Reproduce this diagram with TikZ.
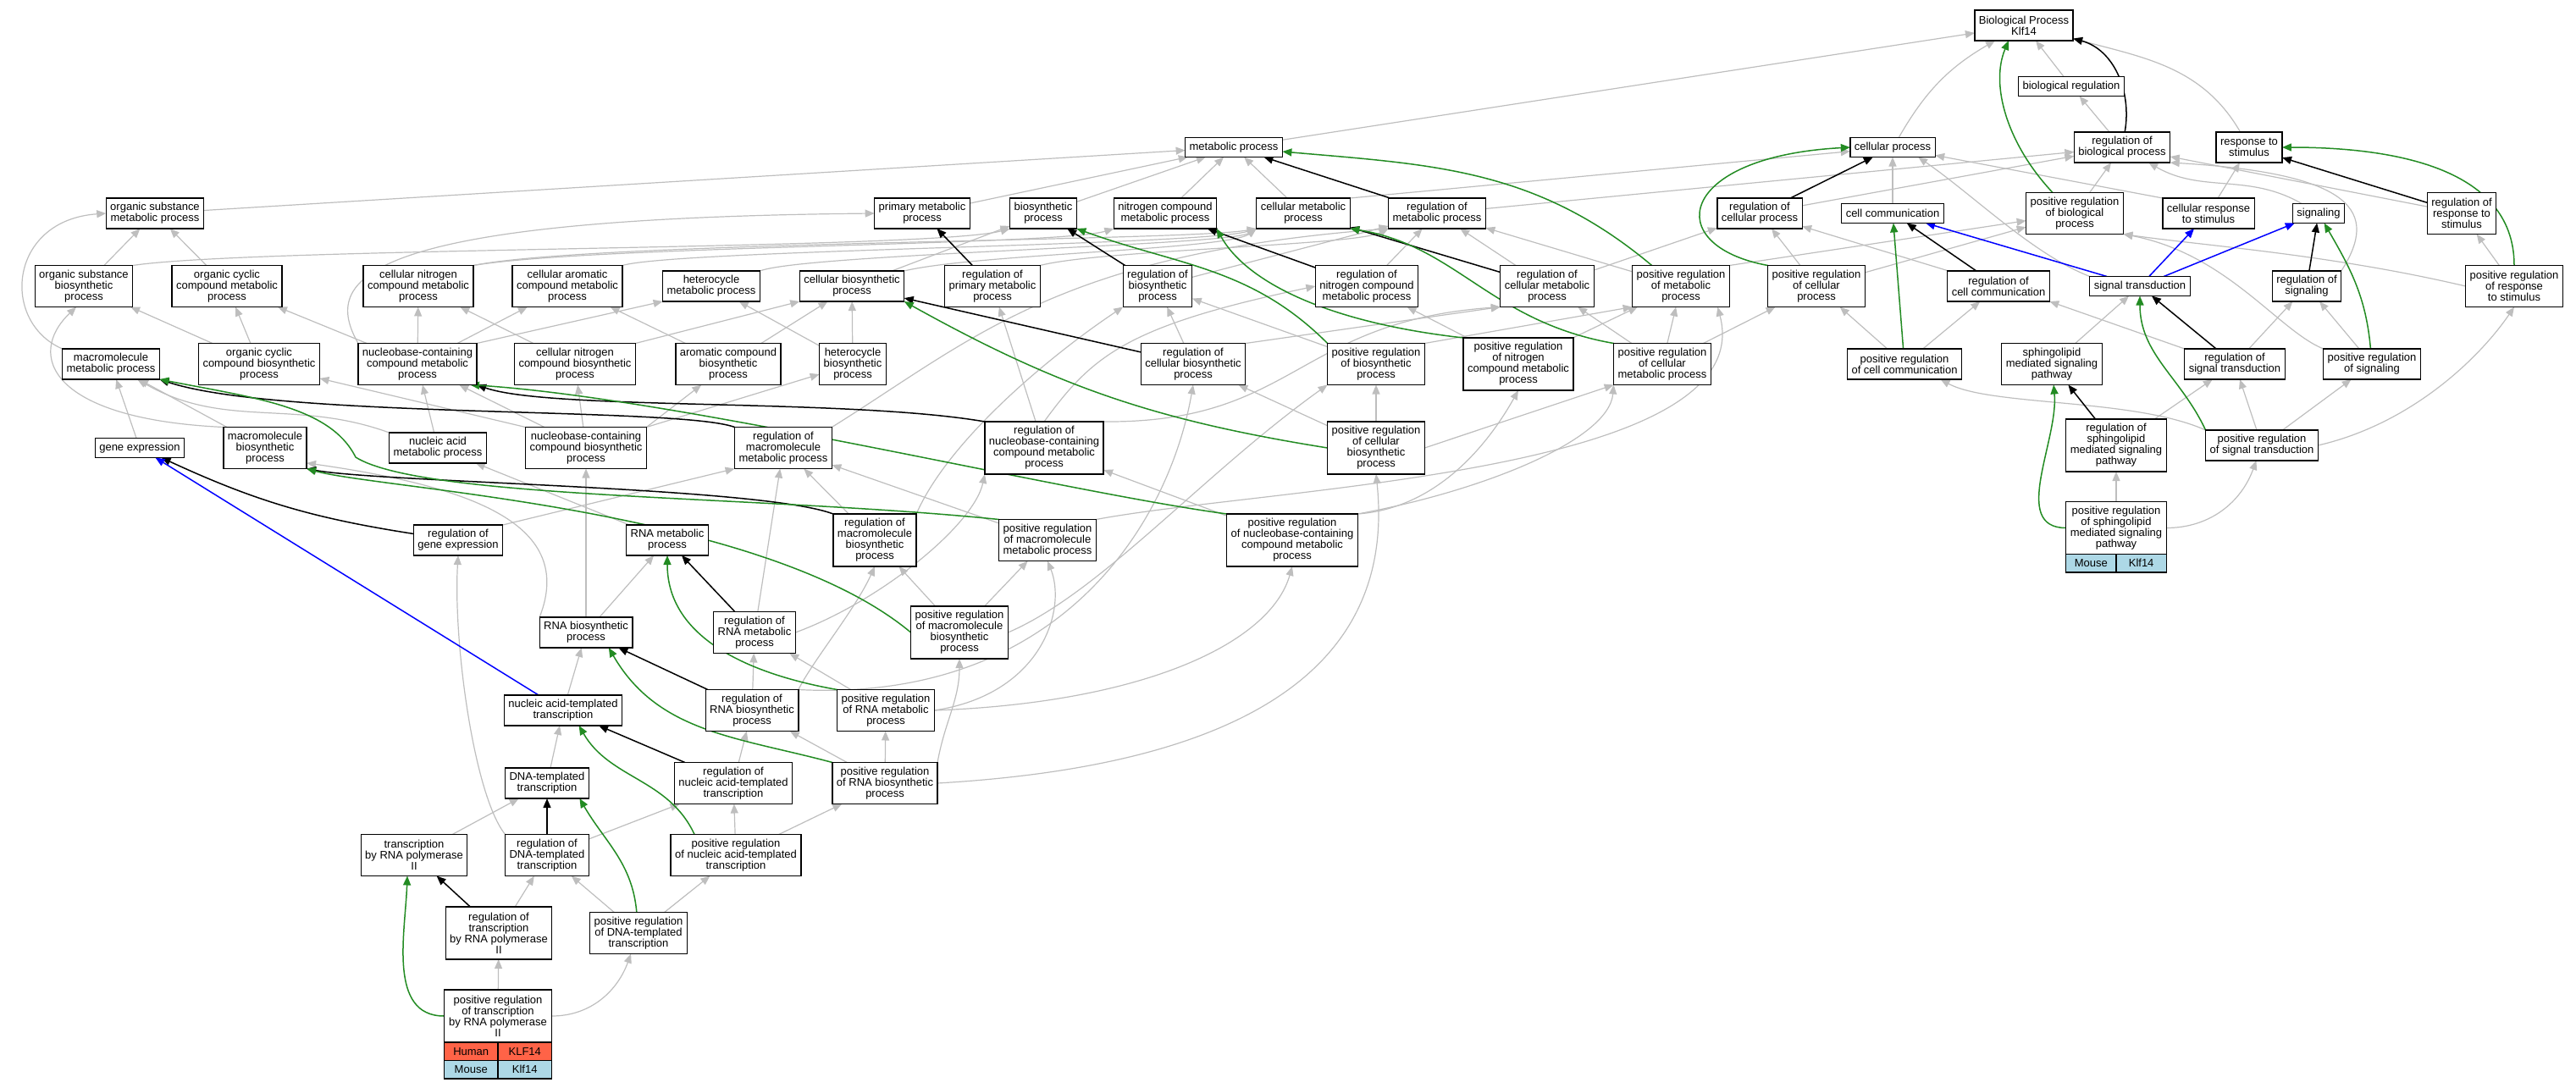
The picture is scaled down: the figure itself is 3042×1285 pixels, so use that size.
\documentclass[tikz,border=0pt]{standalone}
\usepackage{fontspec}
\setmainfont{Liberation Sans}
\usetikzlibrary{
  arrows.meta,
  backgrounds,
  positioning
}
\definecolor{isagray}{HTML}{BEBEBE}
\definecolor{posgreen}{HTML}{228B22}
\definecolor{partblue}{HTML}{0000FF}
\definecolor{humanred}{HTML}{FF6347}
\definecolor{mouseblue}{HTML}{ADD8E6}
\tikzset{
  % For GO terms.
  term/.style={
    draw=black,
    line width=1.3pt,
    fill=white,
    align=center,
    font=\fontsize{13}{13}\selectfont,
    inner xsep=5pt,
    inner ysep=2pt,
    outer sep=0pt},
%
  % Box height for a label of #1 lines.
  line count/.style={
    minimum height=10pt+13pt*#1},
%
  % For the species rows under an annotated term.
  species cell/.style={
    draw=black,
    line width=1.3pt,
    font=\fontsize{13}{13}\selectfont,
    minimum height=21.5pt,
    inner sep=0pt,
    outer sep=0pt},
%
  % For is_a links.
  is a/.style={
    draw=isagray,
    line width=1.2pt,
    -{Triangle[length=11pt,width=9pt]}},
%
  % For regulates links.
  regulates/.style={
    draw=black,
    line width=1.5pt,
    -{Triangle[length=11pt,width=9pt]}},
%
  % For positively regulates links.
  positively regulates/.style={
    draw=posgreen,
    line width=1.5pt,
    -{Triangle[length=11pt,width=9pt]}},
%
  % For part_of links.
  part of/.style={
    draw=partblue,
    line width=1.5pt,
    -{Triangle[length=11pt,width=9pt]}},
}

\begin{document}
\begin{tikzpicture}[x=1pt, y=1pt]
  \useasboundingbox (0,0) rectangle (3042,-1285);

  % top of the graph
  \node[term, line count=2] (root) at (2390,-30) {Biological Process\\Klf14};
  \node[term, line count=1] (br) at (2446,-102) {biological regulation};
  \node[term, line count=1] (mp) at (1457,-174) {metabolic process};
  \node[term, line count=1] (cp) at (2235,-174) {cellular process};
  \node[term, line count=2] (rbiop) at (2506,-174) {regulation of\\biological process};
  \node[term, line count=2] (rts) at (2656,-174) {response to\\stimulus};

  \node[term, line count=2] (osmp) at (183,-252) {organic substance\\metabolic process};
  \node[term, line count=2] (pmp) at (1089,-252) {primary metabolic\\process};
  \node[term, line count=2] (bp) at (1232,-252) {biosynthetic\\process};
  \node[term, line count=2] (nitcmp) at (1376,-252) {nitrogen compound\\metabolic process};
  \node[term, line count=2] (cmp) at (1539,-252) {cellular metabolic\\process};
  \node[term, line count=2] (regmp) at (1697,-252) {regulation of\\metabolic process};
  \node[term, line count=2] (rcp) at (2078,-252) {regulation of\\cellular process};
  \node[term, line count=1] (cc) at (2235,-252) {cell communication};
  \node[term, line count=3] (prbiop) at (2450,-252) {positive regulation\\of biological\\process};
  \node[term, line count=2] (crts) at (2608,-252) {cellular response\\to stimulus};
  \node[term, line count=1] (sig) at (2738,-252) {signaling};
  \node[term, line count=3] (rrts) at (2907,-252) {regulation of\\response to\\stimulus};

  \node[term, line count=3] (osbp) at (99,-338) {organic substance\\biosynthetic\\process};
  \node[term, line count=3] (occmp) at (268,-338) {organic cyclic\\compound metabolic\\process};
  \node[term, line count=3] (cncmp) at (494,-338) {cellular nitrogen\\compound metabolic\\process};
  \node[term, line count=3] (cacmp) at (670,-338) {cellular aromatic\\compound metabolic\\process};
  \node[term, line count=2] (hmp) at (840,-338) {heterocycle\\metabolic process};
  \node[term, line count=2] (cbp) at (1006,-338) {cellular biosynthetic\\process};
  \node[term, line count=3] (rpmp) at (1172,-338) {regulation of\\primary metabolic\\process};
  \node[term, line count=3] (regbp) at (1367,-338) {regulation of\\biosynthetic\\process};
  \node[term, line count=3] (rnitcmp) at (1614,-338) {regulation of\\nitrogen compound\\metabolic process};
  \node[term, line count=3] (rcmp) at (1827,-338) {regulation of\\cellular metabolic\\process};
  \node[term, line count=3] (prmp) at (1985,-338) {positive regulation\\of metabolic\\process};
  \node[term, line count=3] (prcp) at (2145,-338) {positive regulation\\of cellular\\process};
  \node[term, line count=2] (rcc) at (2360,-338) {regulation of\\cell communication};
  \node[term, line count=1] (st) at (2527,-338) {signal transduction};
  \node[term, line count=2] (rsig) at (2724,-338) {regulation of\\signaling};
  \node[term, line count=3] (prrts) at (2969,-338) {positive regulation\\of response\\to stimulus};

  \node[term, line count=2] (mmp) at (131,-430) {macromolecule\\metabolic process};
  \node[term, line count=3] (occbp) at (306,-430) {organic cyclic\\compound biosynthetic\\process};
  \node[term, line count=3] (ncmp) at (493,-430) {nucleobase-containing\\compound metabolic\\process};
  \node[term, line count=3] (cncbp) at (679,-430) {cellular nitrogen\\compound biosynthetic\\process};
  \node[term, line count=3] (acbp) at (860,-430) {aromatic compound\\biosynthetic\\process};
  \node[term, line count=3] (hbp) at (1007,-430) {heterocycle\\biosynthetic\\process};
  \node[term, line count=3] (rcbp) at (1409,-430) {regulation of\\cellular biosynthetic\\process};
  \node[term, line count=3] (prbp) at (1625,-430) {positive regulation\\of biosynthetic\\process};
  \node[term, line count=4] (prnitcmp) at (1793,-430) {positive regulation\\of nitrogen\\compound metabolic\\process};
  \node[term, line count=3] (prcmp) at (1963,-430) {positive regulation\\of cellular\\metabolic process};
  \node[term, line count=2] (prcc) at (2249,-430) {positive regulation\\of cell communication};
  \node[term, line count=3] (smsp) at (2423,-430) {sphingolipid\\mediated signaling\\pathway};
  \node[term, line count=2] (rst) at (2639,-430) {regulation of\\signal transduction};
  \node[term, line count=2] (prsig) at (2801,-430) {positive regulation\\of signaling};

  \node[term, line count=1] (ge) at (165,-529) {gene expression};
  \node[term, line count=3] (mbp) at (313,-529) {macromolecule\\biosynthetic\\process};
  \node[term, line count=2] (namp) at (517,-529) {nucleic acid\\metabolic process};
  \node[term, line count=3] (ncbp) at (692,-529) {nucleobase-containing\\compound biosynthetic\\process};
  \node[term, line count=3] (rmmp) at (925,-529) {regulation of\\macromolecule\\metabolic process};
  \node[term, line count=4] (rncmp) at (1233,-529) {regulation of\\nucleobase-containing\\compound metabolic\\process};
  \node[term, line count=4] (prcbp) at (1625,-529) {positive regulation\\of cellular\\biosynthetic\\process};
  \node[term, line count=4] (rsmsp) at (2499,-526) {regulation of\\sphingolipid\\mediated signaling\\pathway};
  \node[term, line count=2] (prst) at (2671,-526) {positive regulation\\of signal transduction};

  \node[term, line count=2] (rge) at (541,-638) {regulation of\\gene expression};
  \node[term, line count=2] (rnamp) at (788,-638) {RNA metabolic\\process};
  \node[term, line count=4] (rmbp) at (1033,-638) {regulation of\\macromolecule\\biosynthetic\\process};
  \node[term, line count=3] (prmmp) at (1237,-638) {positive regulation\\of macromolecule\\metabolic process};
  \node[term, line count=4] (prncmp) at (1526,-638) {positive regulation\\of nucleobase-containing\\compound metabolic\\process};
  \node[term, line count=4, minimum width=118.5pt] (prsmsp) at (2499,-623.5) {positive regulation\\of sphingolipid\\mediated signaling\\pathway};
  \node[species cell, fill=mouseblue, minimum width=59.25pt, anchor=north east] (prsmspms) at (prsmsp.south) {Mouse};
  \node[species cell, fill=mouseblue, minimum width=59.25pt, anchor=north west] (prsmspmg) at (prsmsp.south) {Klf14};

  \node[term, line count=2] (rbp) at (692,-747) {RNA biosynthetic\\process};
  \node[term, line count=3] (rrmp) at (891,-747) {regulation of\\RNA metabolic\\process};
  \node[term, line count=4] (prmbp) at (1133,-747) {positive regulation\\of macromolecule\\biosynthetic\\process};

  \node[term, line count=2] (natt) at (665,-839) {nucleic acid-templated\\transcription};
  \node[term, line count=3] (rrbp) at (888,-839) {regulation of\\RNA biosynthetic\\process};
  \node[term, line count=3] (prrmp) at (1046,-839) {positive regulation\\of RNA metabolic\\process};

  \node[term, line count=2] (dtt) at (646,-925) {DNA-templated\\transcription};
  \node[term, line count=3] (rnatt) at (866,-925) {regulation of\\nucleic acid-templated\\transcription};
  \node[term, line count=3] (prrbp) at (1045,-925) {positive regulation\\of RNA biosynthetic\\process};

  \node[term, line count=3] (trp2) at (489,-1010) {transcription\\by RNA polymerase\\II};
  \node[term, line count=3] (rdtt) at (646,-1010) {regulation of\\DNA-templated\\transcription};
  \node[term, line count=3] (prnatt) at (869,-1010) {positive regulation\\of nucleic acid-templated\\transcription};

  \node[term, line count=4] (rtrp2) at (589,-1102) {regulation of\\transcription\\by RNA polymerase\\II};
  \node[term, line count=3] (prdtt) at (754,-1102) {positive regulation\\of DNA-templated\\transcription};

  \node[term, line count=4, minimum width=127pt] (prtrp2) at (588,-1200) {positive regulation\\of transcription\\by RNA polymerase\\II};
  \node[species cell, fill=humanred, minimum width=63.5pt, anchor=north east] (prtrp2hs) at (prtrp2.south) {Human};
  \node[species cell, fill=humanred, minimum width=63.5pt, anchor=north west] (prtrp2hg) at (prtrp2.south) {KLF14};
  \node[species cell, fill=mouseblue, minimum width=63.5pt, below=0pt of prtrp2hs] (prtrp2ms) {Mouse};
  \node[species cell, fill=mouseblue, minimum width=63.5pt, below=0pt of prtrp2hg] (prtrp2mg) {Klf14};

  \begin{scope}[on background layer]
  % is_a
  \draw[is a] (br) -- (root);
  \draw[is a] (mp) -- (root);
  \draw[is a] (cp) to[bend left=15] (root);
  \draw[is a] (rts) to[out=120,in=-15] (root);
  \draw[is a] (rbiop) -- (br);
  \draw[is a] (osmp) -- (mp);
  \draw[is a] (pmp) -- (mp);
  \draw[is a] (bp) -- (mp);
  \draw[is a] (nitcmp) -- (mp);
  \draw[is a] (cmp) -- (mp);
  \draw[is a] (cmp.north east) -- (cp);
  \draw[is a] (regmp) -- (rbiop);
  \draw[is a] (rcp) -- (rbiop);
  \draw[is a] (cc) -- (cp);
  \draw[is a] (prbiop) -- (rbiop);
  \draw[is a] (crts) -- (rts);
  \draw[is a] (crts.north west) -- (cp);
  \draw[is a] (sig) to[out=150,in=-30] (rbiop);
  \draw[is a] (rrts) -- (rbiop);
  \draw[is a] (osbp) -- (osmp);
  \draw[is a] (osbp.north east) .. controls (300,-292) and (1100,-295) .. (bp.south west);
  \draw[is a] (occmp) -- (osmp);
  \draw[is a] (cncmp.north east) .. controls (700,-290) and (1250,-290) .. (nitcmp.south west);
  \draw[is a] (cncmp.north east) .. controls (700,-285) and (1400,-285) .. (cmp.south west);
  \draw[is a] (cacmp.north east) .. controls (800,-295) and (1420,-290) .. (cmp.south west);
  \draw[is a] (hmp.north east) .. controls (950,-300) and (1450,-290) .. (cmp.south west);
  \draw[is a] (cbp) -- (bp);
  \draw[is a] (cbp.north east) .. controls (1150,-300) and (1450,-295) .. (cmp.south west);
  \draw[is a] (rpmp.north east) .. controls (1300,-295) and (1600,-290) .. (regmp.south west);
  \draw[is a] (regbp) -- (regmp);
  \draw[is a] (rnitcmp) -- (regmp);
  \draw[is a] (rcmp) -- (regmp);
  \draw[is a] (rcmp) -- (rcp);
  \draw[is a] (prmp) -- (regmp);
  \draw[is a] (prmp.north east) -- (prbiop);
  \draw[is a] (prcp) -- (rcp);
  \draw[is a] (prcp) -- (prbiop);
  \draw[is a] (rcc) -- (rcp);
  \draw[is a] (st.north west) .. controls (2400,-300) and (2330,-230) .. ([xshift=-20pt]cp.south east);
  \draw[is a] (rsig.north east) .. controls (2810,-250) and (2780,-205) .. (rbiop.south east);
  \draw[is a] (prrts) -- (rrts);
  \draw[is a] (prrts.west) .. controls (2750,-300) and (2600,-290) .. (prbiop.south east);
  \draw[is a] (mmp.north west) .. controls (0,-380) and (10,-260) .. (osmp.west);
  \draw[is a] (occbp) -- (osbp);
  \draw[is a] (occbp) -- (occmp);
  \draw[is a] (ncmp) -- (occmp);
  \draw[is a] (ncmp) -- (cncmp);
  \draw[is a] (ncmp) -- (cacmp);
  \draw[is a] (ncmp.north east) -- (hmp.south west);
  \draw[is a] (ncmp.north west) .. controls (380,-330) and (420,-258) .. (pmp.west);
  \draw[is a] (cncbp) -- (cncmp);
  \draw[is a] (cncbp.north east) -- (cbp.south west);
  \draw[is a] (acbp) -- (cacmp);
  \draw[is a] (acbp) -- (cbp);
  \draw[is a] (hbp) -- (hmp);
  \draw[is a] (hbp) -- (cbp);
  \draw[is a] (rcbp) -- (regbp);
  \draw[is a] (rcbp.north east) -- (rcmp.south west);
  \draw[is a] (prbp) -- (regbp);
  \draw[is a] (prbp.north east) -- (prmp.south west);
  \draw[is a] (prnitcmp) -- (rnitcmp);
  \draw[is a] (prnitcmp) -- (prmp);
  \draw[is a] (prcmp) -- (prmp);
  \draw[is a] (prcmp) -- (rcmp);
  \draw[is a] (prcmp) -- (prcp);
  \draw[is a] (prcc) -- (rcc);
  \draw[is a] (prcc) -- (prcp);
  \draw[is a] (smsp) -- (st);
  \draw[is a] (rst) -- (rsig);
  \draw[is a] (rst.north west) -- (rcc.south east);
  \draw[is a] (prsig) -- (rsig);
  \draw[is a] (prsig.north west) .. controls (2690,-390) and (2630,-300) .. (prbiop.south east);
  \draw[is a] (ge) -- (mmp);
  \draw[is a] (mbp) -- (mmp);
  \draw[is a] (mbp.north west) .. controls (60,-495) and (30,-420) .. (osbp.250);
  \draw[is a] (namp) -- (ncmp);
  \draw[is a] (namp.north west) to[out=160,in=-30] (mmp);
  \draw[is a] (ncbp) -- (ncmp);
  \draw[is a] (ncbp) -- (cncbp);
  \draw[is a] (ncbp.north west) -- (occbp);
  \draw[is a] (ncbp.north east) -- (acbp);
  \draw[is a] (ncbp.north east) -- (hbp);
  \draw[is a] (rmmp.north east) .. controls (1150,-400) and (1250,-300) .. (regmp.south west);
  \draw[is a] (rncmp) -- (rpmp);
  \draw[is a] (rncmp.north) .. controls (1290,-420) and (1330,-385) .. (rnitcmp.west);
  \draw[is a] (rncmp.north east) .. controls (1530,-500) and (1530,-380) .. (rcmp.south west);
  \draw[is a] (prcbp) -- (prbp);
  \draw[is a] (prcbp) -- (rcbp);
  \draw[is a] (prcbp.east) -- (prcmp.south west);
  \draw[is a] (rsmsp) -- (rst);
  \draw[is a] (prst) -- (rst);
  \draw[is a] (prst) -- (prsig);
  \draw[is a] (prst.north west) .. controls (2520,-470) and (2350,-480) .. ([xshift=-25pt]prcc.south east);
  \draw[is a] (prst.east) .. controls (2850,-500) and (2930,-420) .. (prrts.south);
  \draw[is a] (rge.north east) -- (rmmp.south west);
  \draw[is a] (rnamp) -- (namp);
  \draw[is a] (rmbp) -- (rmmp);
  \draw[is a] (rmbp.north east) .. controls (1120,-520) and (1240,-420) .. (regbp.south west);
  \draw[is a] (prmmp) -- (rmmp);
  \draw[is a] (prmmp.north east) .. controls (1500,-575) and (2080,-560) .. ([xshift=-14pt]prmp.south east);
  \draw[is a] (prncmp) -- (rncmp);
  \draw[is a] (prncmp.north east) .. controls (1700,-600) and (1760,-520) .. (prnitcmp.south);
  \draw[is a] (prncmp.north east) .. controls (1750,-580) and (1900,-520) .. (prcmp.south west);
  \draw[is a] (prsmsp) -- (rsmsp);
  \draw[is a] (prsmsp.east) to[out=0,in=-110] (prst);
  \draw[is a] (rbp) -- (ncbp);
  \draw[is a] (rbp) -- (rnamp);
  \draw[is a] (rbp.north west) .. controls (680,-620) and (560,-575) .. (mbp.-20);
  \draw[is a] (rrmp.east) .. controls (1040,-710) and (1150,-620) .. (rncmp.south west);
  \draw[is a] (rrmp) -- (rmmp);
  \draw[is a] (prmbp) -- (rmbp);
  \draw[is a] (prmbp) -- (prmmp);
  \draw[is a] (prmbp.east) .. controls (1300,-700) and (1420,-560) .. (prbp.south west);
  \draw[is a] (natt) -- (rbp);
  \draw[is a] (rrbp) -- (rrmp);
  \draw[is a] (rrbp.north east) .. controls (960,-780) and (1010,-720) .. (rmbp.south);
  \draw[is a] (rrbp.north east) .. controls (1250,-830) and (1380,-620) .. (rcbp.south);
  \draw[is a] (prrmp) -- (rrmp);
  \draw[is a] (prrmp.east) .. controls (1230,-820) and (1260,-720) .. (prmmp.south);
  \draw[is a] (prrmp.east) .. controls (1350,-830) and (1500,-760) .. (prncmp.south);
  \draw[is a] (dtt) -- (natt);
  \draw[is a] (rnatt) -- (rrbp);
  \draw[is a] (prrbp) -- (rrbp);
  \draw[is a] (prrbp) -- (prrmp);
  \draw[is a] (prrbp.north east) to[out=80,in=-90] (prmbp);
  \draw[is a] (prrbp.east) .. controls (1450,-905) and (1650,-800) .. (prcbp.south);
  \draw[is a] (trp2) -- (dtt);
  \draw[is a] (rdtt) -- (rnatt);
  \draw[is a] (rdtt.north west) .. controls (560,-940) and (535,-760) .. (rge.south);
  \draw[is a] (prnatt) -- (rnatt);
  \draw[is a] (prnatt) -- (prrbp);
  \draw[is a] (rtrp2) -- (rdtt);
  \draw[is a] (prdtt) -- (rdtt);
  \draw[is a] (prdtt) -- (prnatt);
  \draw[is a] (prtrp2) -- (rtrp2);
  \draw[is a] (prtrp2.east) to[out=0,in=-110] (prdtt);

  % regulates
  \draw[regulates] (rbiop) to[out=80,in=-15] (root);
  \draw[regulates] (regmp) -- (mp);
  \draw[regulates] (rcp) -- (cp);
  \draw[regulates] (rpmp) -- (pmp);
  \draw[regulates] (regbp) -- (bp);
  \draw[regulates] (rnitcmp) -- (nitcmp);
  \draw[regulates] (rcmp) -- (cmp);
  \draw[regulates] (rcbp) -- (cbp);
  \draw[regulates] (rmmp.north west) .. controls (800,-480) and (330,-495) .. (mmp.south east);
  \draw[regulates] (rncmp.north west) .. controls (1000,-470) and (650,-485) .. (ncmp.south east);
  \draw[regulates] (rmbp.north west) .. controls (900,-575) and (450,-570) .. (mbp.south east);
  \draw[regulates] (rge) to[bend left=8] (ge);
  \draw[regulates] (rrmp) -- (rnamp);
  \draw[regulates] (rrbp) -- (rbp);
  \draw[regulates] (rnatt) -- (natt);
  \draw[regulates] (rdtt) -- (dtt);
  \draw[regulates] (rtrp2) -- (trp2);
  \draw[regulates] (rcc) -- (cc);
  \draw[regulates] (rst) -- (st);
  \draw[regulates] (rsig) -- (sig);
  \draw[regulates] (rrts) -- (rts);
  \draw[regulates] (rsmsp) -- (smsp);

  % positively regulates
  \draw[positively regulates] ([xshift=-26pt]prbiop.north) .. controls (2370,-170) and (2350,-100) .. ([xshift=-18pt]root.south);
  \draw[positively regulates] ([xshift=23pt]prmp.north west) to[out=140,in=-5] (mp);
  \draw[positively regulates] (prcp.north west) .. controls (1960,-290) and (1980,-185) .. (cp.west);
  \draw[positively regulates] (prcc) -- (cc);
  \draw[positively regulates] (prst.north west) to[out=115,in=-90] (st);
  \draw[positively regulates] (prsig) to[out=95,in=-60] (sig);
  \draw[positively regulates] (prrts) to[out=90,in=0] (rts);
  \draw[positively regulates] (prsmsp.west) to[out=180,in=-85] (smsp);
  \draw[positively regulates] (prbp.north west) to[out=135,in=-20] (bp.south east);
  \draw[positively regulates] (prnitcmp.north west) .. controls (1560,-380) and (1470,-330) .. (nitcmp.south east);
  \draw[positively regulates] (prcmp.north west) .. controls (1760,-380) and (1720,-290) .. (cmp.south east);
  \draw[positively regulates] (prcbp.west) to[bend left=10] (cbp.south east);
  \draw[positively regulates] (prmmp.north west) .. controls (900,-585) and (500,-590) .. (420,-540)
    .. controls (390,-480) and (300,-470) .. (mmp.south east);
  \draw[positively regulates] (prncmp.north west) .. controls (1250,-580) and (800,-470) .. ([xshift=-8pt]ncmp.south east);
  \draw[positively regulates] (prmbp.west) .. controls (900,-600) and (450,-578) .. (mbp.south east);
  \draw[positively regulates] (prrmp.north west) to[out=170,in=-90] (rnamp);
  \draw[positively regulates] (prrbp.north west) to[out=165,in=-60] ([xshift=-28pt]rbp.south east);
  \draw[positively regulates] ([xshift=28pt]prnatt.north west) to[out=115,in=-60] ([xshift=-51pt]natt.south east);
  \draw[positively regulates] (prdtt) to[out=95,in=-60] ([xshift=-11pt]dtt.south east);
  \draw[positively regulates] (prtrp2.west) to[out=180,in=-92] ([xshift=-8pt]trp2.south);

  % part_of
  \draw[part of] (st) -- (cc);
  \draw[part of] (st) -- (crts);
  \draw[part of] (st) -- (sig);
  \draw[part of] (natt) -- (ge);
  \end{scope}
\end{tikzpicture}
\end{document}
